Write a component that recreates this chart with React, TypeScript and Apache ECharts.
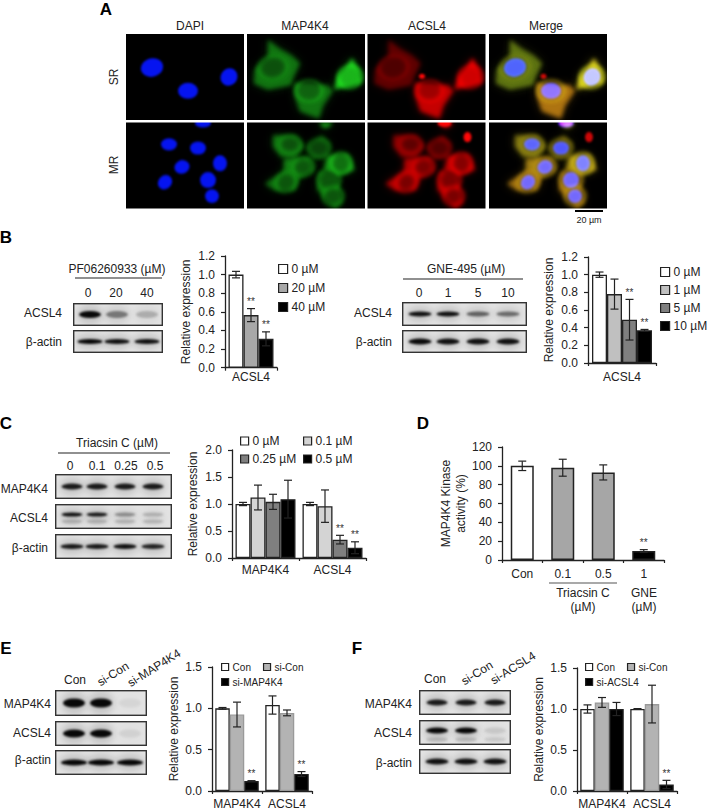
import React, { useEffect, useRef } from "react";
import * as echarts from "echarts";

const FONT = '"Liberation Sans", Arial, sans-serif';
const INK = "#222222";

// ---------- chart data ----------
const b1Cats = ["ACSL4"];
const b1Names = ["0 µM", "20 µM", "40 µM"];
const b1Means = [[1.0], [0.565], [0.31]];
const b1Errs = [[0.035], [0.07], [0.075]];
const b1Stars = [[0], [1], [1]];

const b2Cats = ["ACSL4"];
const b2Names = ["0 µM", "1 µM", "5 µM", "10 µM"];
const b2Means = [[1.0], [0.78], [0.49], [0.37]];
const b2Errs = [[0.03], [0.17], [0.23], [0.01]];
const b2Stars = [[0], [0], [1], [1]];

const cCats = ["MAP4K4", "ACSL4"];
const cNames = ["0 µM", "0.1 µM", "0.25 µM", "0.5 µM"];
const cMeans = [[1.0, 1.0], [1.12, 0.96], [1.04, 0.34], [1.09, 0.19]];
const cErrs = [[0.03, 0.03], [0.23, 0.3], [0.14, 0.08], [0.35, 0.11]];
const cStars = [[0, 0], [0, 0], [0, 1], [0, 1]];

const dCats = ["Con", "0.1", "0.5", "1"];
const dMeans = [100, 98, 93, 9.5];
const dErrs = [5, 9, 8, 1.5];
const dStars = [0, 0, 0, 1];

const eCats = ["MAP4K4", "ACSL4"];
const eNames = ["Con", "si-Con", "si-MAP4K4"];
const eMeans = [[1.0, 1.04], [0.925, 0.945], [0.12, 0.205]];
const eErrs = [[0.01, 0.11], [0.15, 0.035], [0.005, 0.03]];
const eStars = [[0, 0], [0, 0], [1, 1]];

const fCats = ["MAP4K4", "ACSL4"];
const fNames = ["Con", "si-Con", "si-ACSL4"];
const fMeans = [[1.0, 1.0], [1.08, 1.06], [1.0, 0.08]];
const fErrs = [[0.05, 0.005], [0.06, 0.23], [0.08, 0.05]];
const fStars = [[0, 0], [0, 0], [0, 1]];

// ---------- micrograph shapes (panel pixels, 118 units square, squeezed to the panel height) ----------
type Cell = { pts: number[][]; g: number; r: number };
const srCells: Cell[] = [
  { pts: [[21, 8], [32, 20], [44, 29], [53, 40], [46, 60], [44, 70], [21, 76], [7, 68], [8, 48], [21, 32]], g: 0.5, r: 0.42 },
  { pts: [[105, 33], [112, 50], [114, 67], [87, 76], [91, 58], [98, 48]], g: 0.85, r: 1.0 },
  { pts: [[48, 67], [62, 72], [80, 70], [86, 78], [76, 98], [72, 116], [53, 106], [48, 85]], g: 0.5, r: 0.85 },
];
const srNuclei = [
  [26, 46, 11, 13, 0.3, 0.3, 0.3],
  [62, 78, 10, 11, 0, 0.38, 0.6],
  [103, 59, 8.5, 12, 0.1, 0.7, 0.8],
];
const srSpots = [[54.5, 58, 3, 3.5]];
const mrCells: Cell[] = [
  { pts: [[26, 18], [48, 18], [57, 33], [48, 49], [34, 47], [26, 33]], g: 0.5, r: 0.6 },
  { pts: [[60, 33], [75, 18], [83, 29], [80, 48], [66, 50]], g: 0.42, r: 0.52 },
  { pts: [[37, 50], [62, 48], [66, 65], [53, 75], [37, 70]], g: 0.55, r: 0.78 },
  { pts: [[80, 46], [100, 44], [108, 65], [89, 73], [77, 65]], g: 0.62, r: 0.8 },
  { pts: [[18, 84], [39, 65], [53, 74], [48, 93], [28, 93]], g: 0.48, r: 0.78 },
  { pts: [[73, 67], [89, 72], [95, 110], [88, 118], [70, 92]], g: 0.48, r: 0.78 },
  { pts: [[72, 0], [86, 0], [81, 7], [76, 7]], g: 0.7, r: 0.8 },
];
const mrNuclei = [
  [43, 30, 8, 8.5, 0, 0.3, 0.35],
  [72, 35, 8, 9, 0, 0.25, 0.3],
  [94, 56, 7, 11, 0, 0.42, 0.5],
  [56, 61, 7.5, 9.5, 0.2, 0.32, 0.45],
  [82, 79, 8, 11, 0, 0.32, 0.45],
  [39, 82, 7, 10, 0.2, 0.32, 0.45],
  [86, 101, 7, 9.5, 0, 0.32, 0.45],
];
const mrSpots = [[100, 20, 4, 7], [77, 1, 7, 5]];
const mrBlue = [[77, 1, 8, 6, 0], ...mrNuclei];

const PW = 118;
const PH = 86;
function panelCanvas() {
  const c = document.createElement("canvas");
  c.width = PW;
  c.height = PH;
  const x = c.getContext("2d") as any;
  x.scale(1, PH / PW);
  x.fillStyle = "#000";
  x.fillRect(0, 0, PW, PW);
  return { c, x };
}
function channel(cells: Cell[], nuclei: number[][], key: "g" | "r", spots: number[][]) {
  const { c, x } = panelCanvas();
  const col = (v: number, a = 1) => {
    const n = Math.min(255, Math.round(255 * v));
    return key === "g" ? `rgba(${Math.round(n * 0.15)},${n},${Math.round(n * 0.15)},${a})` : `rgba(${n},0,0,${a})`;
  };
  const poly = (cell: Cell) => {
    x.beginPath();
    cell.pts.forEach((p, i) => (i ? x.lineTo(p[0], p[1]) : x.moveTo(p[0], p[1])));
    x.closePath();
  };
  x.filter = "blur(5px)";
  cells.forEach((cell) => {
    poly(cell);
    x.fillStyle = col(cell[key], 0.4);
    x.fill();
  });
  x.filter = "blur(2px)";
  cells.forEach((cell) => {
    poly(cell);
    x.fillStyle = col(cell[key], 0.85);
    x.fill();
  });
  nuclei.forEach((n) => {
    const v = key === "g" ? n[5] : n[6];
    x.beginPath();
    x.ellipse(n[0], n[1], n[2] + 3, n[3] + 3, n[4], 0, 7);
    x.strokeStyle = col(Math.min(1, v * 2), 0.8);
    x.lineWidth = 2.6;
    x.stroke();
    x.beginPath();
    x.ellipse(n[0], n[1], n[2], n[3], n[4], 0, 7);
    x.fillStyle = col(v, 0.9);
    x.fill();
  });
  if (key === "r") {
    x.filter = "blur(1px)";
    spots.forEach((s) => {
      x.beginPath();
      x.ellipse(s[0], s[1], s[2], s[3], 0, 0, 7);
      x.fillStyle = "#ff0808";
      x.fill();
    });
  }
  x.filter = "none";
  return c;
}
function blue(nuclei: number[][]) {
  const { c, x } = panelCanvas();
  x.filter = "blur(0.8px)";
  x.fillStyle = "#0514f0";
  nuclei.forEach((n) => {
    x.beginPath();
    x.ellipse(n[0], n[1], n[2], n[3], n[4], 0, 7);
    x.fill();
  });
  x.filter = "none";
  return c;
}
function micrographRow(cells: Cell[], nuclei: number[][], spots: number[][], blueN: number[][]) {
  const g = channel(cells, nuclei, "g", spots);
  const r = channel(cells, nuclei, "r", spots);
  const b = blue(blueN);
  const m = document.createElement("canvas");
  m.width = PW;
  m.height = PH;
  const x = m.getContext("2d") as any;
  x.globalCompositeOperation = "lighter";
  x.drawImage(g, 0, 0);
  x.globalAlpha = 0.8;
  x.drawImage(r, 0, 0);
  x.globalAlpha = 1;
  x.drawImage(b, 0, 0);
  return [b, g, r, m].map((cv) => cv.toDataURL());
}

// ---------- blots: [x, yOffset, width, thickness, darkness] ----------
type Lane = number[];
function blot(w: number, h: number, lanes: Lane[]) {
  const c = document.createElement("canvas");
  c.width = w;
  c.height = h;
  const x = c.getContext("2d") as any;
  x.fillStyle = "#e3e3e3";
  x.fillRect(0, 0, w, h);
  x.filter = "blur(3px)";
  lanes.forEach((l) => {
    x.fillStyle = `rgba(0,0,0,${0.12 * Math.min(1, l[4] * 1.5)})`;
    x.beginPath();
    x.ellipse(l[0], h / 2 + l[1], l[2] / 2 + 2, l[3] + 3, 0, 0, 7);
    x.fill();
  });
  x.filter = "blur(0.9px)";
  lanes.forEach((l) => {
    x.fillStyle = `rgba(8,8,8,${l[4]})`;
    x.beginPath();
    x.ellipse(l[0], h / 2 + l[1], l[2] / 2, l[3] / 2, 0, 0, 7);
    x.fill();
  });
  x.filter = "none";
  x.strokeStyle = "#333";
  x.lineWidth = 1.4;
  x.strokeRect(0.7, 0.7, w - 1.4, h - 1.4);
  return c.toDataURL();
}
const lanes = (xs: number[], w: number, t: number, d: number[], dy = 0): Lane[] => xs.map((v, i) => [v, dy, w, t, d[i]]);

function App() {
  const ref = useRef<HTMLDivElement>(null);
  useEffect(() => {
    if (!ref.current) return;
    const chart = echarts.init(ref.current, undefined, { renderer: "svg" });

    const grids: any[] = [];
    const xAxes: any[] = [];
    const yAxes: any[] = [];
    const series: any[] = [];
    const axisLine = { show: true, onZero: false, lineStyle: { color: INK, width: 1.3 } };
    const tick = (l: number) => ({ show: true, length: l, lineStyle: { color: INK, width: 1.2 } });

    const addGrid = (o: any) => {
      grids.push({ left: o.left, top: o.top, width: o.width, height: o.height, containLabel: false });
      const gi = grids.length - 1;
      xAxes.push({
        type: "category", gridIndex: gi, data: o.cats, axisLine, axisTick: { ...tick(3), interval: 0 },
        axisLabel: { color: INK, fontFamily: FONT, fontSize: 12, margin: o.xMargin, interval: 0 },
      });
      yAxes.push({
        type: "value", gridIndex: gi, min: 0, max: o.max, interval: o.step, axisLine, axisTick: tick(4), splitLine: { show: false },
        axisLabel: { color: INK, fontFamily: FONT, fontSize: 12, margin: 10, formatter: o.fmt },
        name: o.name, nameLocation: "middle", nameGap: o.gap,
        nameTextStyle: { color: INK, fontFamily: FONT, fontSize: 12, lineHeight: 15 },
      });
      return gi;
    };
    const errSeries = (gi: number, data: number[][], dx: number) => ({
      type: "custom", xAxisIndex: gi, yAxisIndex: gi, data, clip: false, z: 5,
      encode: { x: 0, y: 1 },
      renderItem: (_p: any, api: any) => {
        const i = api.value(0), v = api.value(1), e = api.value(2), s = api.value(3);
        const top = api.coord([i, v + e]);
        const bot = api.coord([i, v - e]);
        const x = top[0] + dx;
        const line = (x1: number, y1: number, x2: number, y2: number) => ({
          type: "line", shape: { x1, y1, x2, y2 }, style: { stroke: INK, lineWidth: 1.2 },
        });
        const children: any[] = [
          line(x, top[1], x, bot[1]),
          line(x - 4, top[1], x + 4, top[1]),
          line(x - 4, bot[1], x + 4, bot[1]),
        ];
        if (s) children.push({
          type: "text", x, y: top[1] - 7,
          style: { text: "**", fill: "#333", fontFamily: FONT, fontSize: 10, align: "center", verticalAlign: "middle" },
        });
        return { type: "group", children };
      },
    });
    const addBars = (o: any) => {
      const gi = addGrid(o);
      const n = o.names.length;
      o.names.forEach((name: string, s: number) => {
        series.push({
          type: "bar", name, xAxisIndex: gi, yAxisIndex: gi, data: o.means[s], barWidth: o.barWidth, barGap: 0,
          itemStyle: { color: o.colors[s], borderColor: o.borders ? o.borders[s] : INK, borderWidth: 1.3 },
        });
      });
      o.names.forEach((_: string, s: number) => {
        const data = o.means[s].map((v: number, i: number) => [i, v, o.errs[s][i], o.stars[s][i]]);
        series.push(errSeries(gi, data, (s - (n - 1) / 2) * o.barWidth));
      });
    };
    const f1 = (v: number) => v.toFixed(1);

    addBars({ left: 225, top: 256, width: 52, height: 111.7, cats: b1Cats, max: 1.2, step: 0.2, fmt: f1, name: "Relative expression", gap: 32, xMargin: 3, names: b1Names, means: b1Means, errs: b1Errs, stars: b1Stars, barWidth: 15, colors: ["#ffffff", "#a8a8a8", "#000000"] });
    addBars({ left: 588, top: 257, width: 68, height: 106, cats: b2Cats, max: 1.2, step: 0.2, fmt: f1, name: "Relative expression", gap: 32, xMargin: 8, names: b2Names, means: b2Means, errs: b2Errs, stars: b2Stars, barWidth: 15, colors: ["#ffffff", "#c0c0c0", "#7f7f7f", "#000000"] });
    addBars({ left: 232, top: 450, width: 134, height: 108, cats: cCats, max: 2, step: 0.5, fmt: f1, name: "Relative expression", gap: 32, xMargin: 6, names: cNames, means: cMeans, errs: cErrs, stars: cStars, barWidth: 15, colors: ["#ffffff", "#d4d4d4", "#7f7f7f", "#000000"] });

    // panel D: one series with a colour per category
    const dColors = ["#ffffff", "#a6a6a6", "#a6a6a6", "#000000"];
    const dGi = addGrid({ left: 502, top: 447, width: 162, height: 113, cats: dCats, max: 120, step: 20, name: "MAP4K4 Kinase\nactivity (%)", gap: 32, xMargin: 8 });
    series.push({
      type: "bar", name: "activity", xAxisIndex: dGi, yAxisIndex: dGi, barWidth: 23,
      data: dMeans.map((v, i) => ({ value: v, itemStyle: { color: dColors[i], borderColor: INK, borderWidth: 1.5 } })),
    });
    series.push(errSeries(dGi, dMeans.map((v, i) => [i, v, dErrs[i], dStars[i]]), 0));

    addBars({ left: 212, top: 667, width: 100, height: 125, cats: eCats, max: 1.5, step: 0.5, fmt: f1, name: "Relative expression", gap: 26, xMargin: 7, names: eNames, means: eMeans, errs: eErrs, stars: eStars, barWidth: 14.5, colors: ["#ffffff", "#b3b3b3", "#000000"], borders: [INK, "#9a9a9a", INK] });
    addBars({ left: 577, top: 668, width: 100, height: 124, cats: fCats, max: 1.5, step: 0.5, fmt: f1, name: "Relative expression", gap: 27, xMargin: 7, names: fNames, means: fMeans, errs: fErrs, stars: fStars, barWidth: 14.5, colors: ["#ffffff", "#b3b3b3", "#000000"], borders: [INK, "#9a9a9a", INK] });

    const leg = (left: number, top: number, data: string[], orient: string, gap: number, size: number, fs: number) => ({
      show: true, left, top, data, orient, itemGap: gap, itemWidth: size, itemHeight: size, icon: "rect", padding: 0,
      selectedMode: false, itemStyle: { borderColor: INK, borderWidth: 1.2 },
      textStyle: { color: INK, fontFamily: FONT, fontSize: fs, padding: [0, 0, 0, -1] },
    });
    const legend = [
      leg(278, 263, b1Names, "vertical", 7, 9, 12),
      leg(660, 266, b2Names, "vertical", 6, 9, 12),
      leg(240, 435, ["0 µM", "0.25 µM"], "vertical", 6, 8, 12),
      leg(303, 435, ["0.1 µM", "0.5 µM"], "vertical", 6, 8, 12),
      leg(221, 662, ["Con", "si-Con"], "horizontal", 12, 7, 10),
      leg(221, 677, ["si-MAP4K4"], "horizontal", 12, 7, 10),
      leg(585, 662, ["Con", "si-Con"], "horizontal", 12, 7, 10),
      leg(585, 677, ["si-ACSL4"], "horizontal", 12, 7, 10),
    ];

    // ---------- raster panels ----------
    const sr = micrographRow(srCells, srNuclei, srSpots, srNuclei);
    const mr = micrographRow(mrCells, mrNuclei, mrSpots, mrBlue);
    const g: any[] = [];
    const img = (image: string, x: number, y: number, width: number, height: number) =>
      g.push({ type: "image", z: 1, style: { image, x, y, width, height } });
    [126, 247, 367.5, 489].forEach((x, i) => {
      img(sr[i], x, 34, PW, PH);
      img(mr[i], x, 122.5, PW, PH);
    });

    const T = (text: string, x: number, y: number, o: any = {}) =>
      g.push({
        type: "text", x, y, rotation: o.rot || 0, z: 10,
        style: { text, fill: o.fill || INK, fontFamily: FONT, fontSize: o.size || 12, fontWeight: o.weight || "normal", align: o.align || "center", verticalAlign: "middle" },
      });
    const L = (x1: number, x2: number, y: number, stroke = INK) =>
      g.push({ type: "line", z: 10, shape: { x1, y1: y, x2, y2: y }, style: { stroke, lineWidth: 1.2 } });
    const Rlabel = { align: "right" };

    ["A", "B", "C", "D", "E", "F"].forEach((t, i) => {
      const pos = [[106, 9], [6, 237], [6, 423], [423, 423], [6, 648], [357, 648]][i];
      T(t, pos[0], pos[1], { size: 17, weight: "bold", fill: "#000" });
    });
    ["DAPI", "MAP4K4", "ACSL4", "Merge"].forEach((t, i) => T(t, [190, 305, 427, 546][i], 26));
    T("SR", 114, 77, { rot: Math.PI / 2 });
    T("MR", 114, 165, { rot: Math.PI / 2 });
    g.push({ type: "rect", z: 10, shape: { x: 575, y: 210, width: 28, height: 2 }, style: { fill: "#000" } });
    T("20 µm", 589, 220, { size: 9 });

    // B left
    T("PF06260933 (µM)", 117, 269);
    L(75, 162, 278);
    ["0", "20", "40"].forEach((t, i) => T(t, [88, 116, 147][i], 293));
    img(blot(90, 23, lanes([17, 44, 74], 22, 7, [1, 0.45, 0.22])), 73, 303, 90, 23);
    img(blot(90, 23, lanes([17, 44, 74], 25, 5, [1, 0.95, 0.95])), 73, 330, 90, 23);
    T("ACSL4", 62, 313, Rlabel);
    T("β-actin", 62, 342, Rlabel);
    // B right
    T("GNE-495 (µM)", 466, 269);
    L(403, 523, 279);
    ["0", "1", "5", "10"].forEach((t, i) => T(t, [419, 448, 478, 508][i], 293));
    img(blot(125, 24, lanes([18, 46, 76, 106], 23, 5, [0.95, 0.95, 0.55, 0.5])), 402, 302, 125, 24);
    img(blot(125, 23, lanes([18, 46, 76, 106], 23, 6, [0.98, 0.95, 0.95, 0.95])), 402, 330, 125, 23);
    T("ACSL4", 392, 313, Rlabel);
    T("β-actin", 392, 342, Rlabel);
    // C
    T("Triacsin C (µM)", 117, 443);
    L(58, 170, 453);
    ["0", "0.1", "0.25", "0.5"].forEach((t, i) => T(t, [70, 97, 126, 155][i], 466));
    const cx = [17, 42, 70, 98];
    img(blot(117, 25, lanes(cx, 21, 6, [0.9, 0.9, 0.9, 0.9])), 55, 474, 117, 25);
    img(blot(117, 25, [...lanes(cx, 21, 4, [0.95, 0.9, 0.35, 0.2], -2), ...lanes(cx, 21, 4, [0.18, 0.18, 0.18, 0.18], 5)]), 55, 504, 117, 25);
    img(blot(117, 25, lanes(cx, 23, 5, [0.9, 0.9, 0.95, 0.85])), 55, 534, 117, 25);
    T("MAP4K4", 48, 489, Rlabel);
    T("ACSL4", 48, 518, Rlabel);
    T("β-actin", 48, 548, Rlabel);
    // D
    L(549, 617, 583, "#555");
    T("Triacsin C", 583, 593);
    T("GNE", 644, 593);
    T("(µM)", 583, 607);
    T("(µM)", 644, 607);
    // E
    const rot = (32 * Math.PI) / 180;
    T("Con", 75, 680);
    T("si-Con", 113, 674, { rot });
    T("si-MAP4K4", 154, 668, { rot });
    const ex = [19, 46, 75];
    img(blot(92, 26, lanes(ex, 22, 9, [1, 1, 0.05])), 55, 690, 92, 26);
    img(blot(92, 25, lanes(ex, 22, 8, [1, 1, 0.07])), 55, 721, 92, 25);
    img(blot(92, 25, lanes(ex, 26, 6, [1, 1, 1])), 55, 750, 92, 25);
    T("MAP4K4", 51, 704, Rlabel);
    T("ACSL4", 51, 733, Rlabel);
    T("β-actin", 51, 760, Rlabel);
    // F
    T("Con", 435, 679);
    T("si-Con", 477, 673, { rot });
    T("si-ACSL4", 513, 668, { rot });
    const fx = [18, 47, 76];
    img(blot(92, 25, lanes(fx, 21, 6, [0.9, 0.9, 0.9])), 419, 690, 92, 25);
    img(blot(92, 25, [...lanes(fx, 22, 6, [1, 1, 0.1], -2), ...lanes(fx, 22, 4, [0.15, 0.15, 0.1], 7)]), 419, 720, 92, 25);
    img(blot(92, 25, lanes(fx, 23, 6, [0.95, 0.95, 0.95])), 419, 749, 92, 25);
    T("MAP4K4", 412, 704, Rlabel);
    T("ACSL4", 412, 733, Rlabel);
    T("β-actin", 412, 763, Rlabel);

    chart.setOption({
      animation: false,
      backgroundColor: "#ffffff",
      grid: grids,
      xAxis: xAxes,
      yAxis: yAxes,
      legend,
      series,
      graphic: { elements: g },
    });
    return () => chart.dispose();
  }, []);
  return <div ref={ref} style={{ position: "fixed", left: 0, top: 0, width: 709, height: 810 }} />;
}

export default App;
